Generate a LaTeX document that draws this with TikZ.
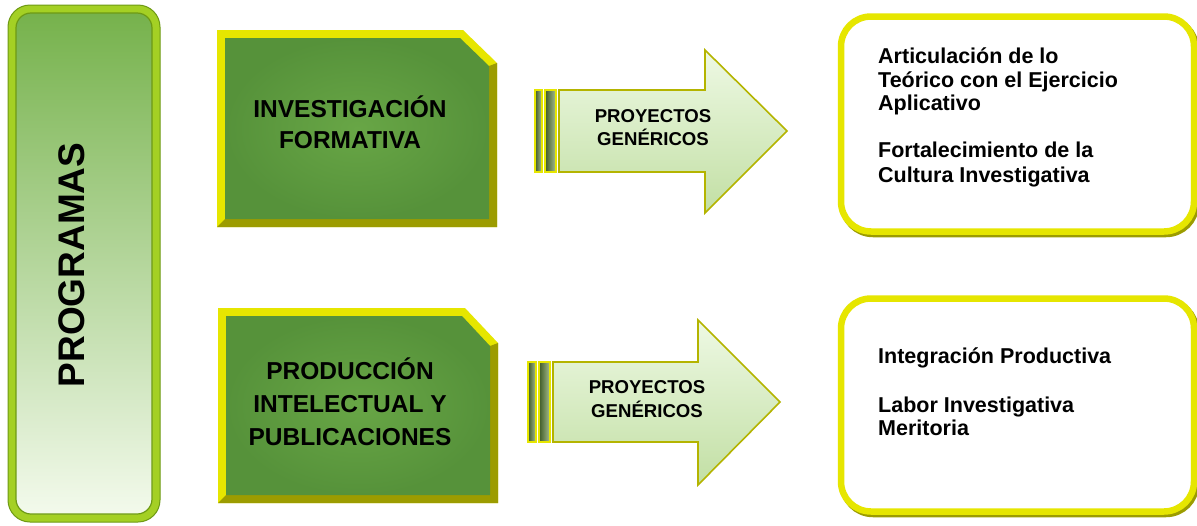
\documentclass[tikz,border=0pt]{standalone}
\usepackage{fontspec}
\setmainfont{Liberation Sans}
\definecolor{progborder}{HTML}{A4D024}
\definecolor{progdark}{HTML}{6E9A14}
\definecolor{progtop}{HTML}{76B24C}
\definecolor{progbot}{HTML}{F3FAEC}
\definecolor{ybright}{HTML}{E6E600}
\definecolor{yolive}{HTML}{9C9C00}
\definecolor{gmid}{HTML}{68A646}
\definecolor{gedge}{HTML}{56923A}
\definecolor{arrtop}{HTML}{EEF9E4}
\definecolor{arrbot}{HTML}{C2DFA4}
\definecolor{arrline}{HTML}{B4B400}
\definecolor{stripedark}{HTML}{3E5A26}
\definecolor{stripelight}{HTML}{A8BE90}
\tikzset{
  bigtxt/.style={font=\fontsize{37}{40}\selectfont\bfseries, inner sep=0pt},
  boxtxt/.style={font=\fontsize{24.5}{28}\selectfont\bfseries, inner sep=0pt, anchor=base},
  arrtxt/.style={font=\fontsize{18.6}{22}\selectfont\bfseries, inner sep=0pt, anchor=base},
  listtxt/.style={font=\fontsize{21.5}{24}\selectfont\bfseries, inner sep=0pt, anchor=base west},
  bevel/.style={fill=yolive},
  greenfill/.style={inner color=gmid, outer color=gedge},
  arrowbody/.style={top color=arrtop, bottom color=arrbot, draw=arrline, line width=1.6pt, line join=miter},
  stripebox/.style={left color=stripedark, right color=stripelight, draw=ybright, line width=1.4pt},
  outcomebox/.style={draw=ybright, line width=6.5pt, rounded corners=30pt, fill=white},
  outcomeshadow/.style={draw=yolive, line width=6.5pt, rounded corners=30pt},
}
\begin{document}
\begin{tikzpicture}[x=1pt,y=-1pt]
\useasboundingbox[fill=white] (0,0) rectangle (1197,525);

% ---------- PROGRAMAS ----------
\fill[progborder, draw=progdark, line width=1pt, rounded corners=22pt] (8,5) rectangle (160,522);
\shade[top color=progtop, bottom color=progbot, draw=progdark, line width=1.2pt, rounded corners=15pt] (16,13) rectangle (152,514);
\node[bigtxt, rotate=90] (prog) at (72,265) {PROGRAMAS};

% ---------- Box 1 ----------
\fill[ybright] (217,30) -- (463,30) -- (497,63) -- (497,227) -- (217,227) -- cycle;
\fill[bevel] (497,63) -- (497,227) -- (217,227) -- (225,219) -- (489,219) -- (489,66) -- cycle;
\shade[greenfill] (225,38) -- (460,38) -- (489,66) -- (489,219) -- (225,219) -- cycle;
\node[boxtxt] (inv1) at (350,117) {INVESTIGACIÓN};
\node[boxtxt] (inv2) at (350,148) {FORMATIVA};

% ---------- Box 2 ----------
\fill[ybright] (218,308) -- (465,308) -- (498,343) -- (498,503) -- (218,503) -- cycle;
\fill[bevel] (498,343) -- (498,503) -- (218,503) -- (226,495) -- (490,495) -- (490,346) -- cycle;
\shade[greenfill] (226,316) -- (462,316) -- (490,346) -- (490,495) -- (226,495) -- cycle;
\node[boxtxt] (pro1) at (350,379) {PRODUCCIÓN};
\node[boxtxt] (pro2) at (350,412) {INTELECTUAL Y};
\node[boxtxt] (pro3) at (350,445) {PUBLICACIONES};

% ---------- Arrow 1 ----------
\shade[stripebox] (535,90) rectangle (542,172);
\shade[stripebox] (545,90) rectangle (556,172);
\shade[arrowbody] (559,90) -- (705,90) -- (705,50) -- (787,131) -- (705,213) -- (705,172) -- (559,172) -- cycle;
\node[arrtxt] (a1l1) at (653,122) {PROYECTOS};
\node[arrtxt] (a1l2) at (653,145) {GENÉRICOS};

% ---------- Arrow 2 ----------
\shade[stripebox] (528,362) rectangle (536,442);
\shade[stripebox] (539,362) rectangle (550,442);
\shade[arrowbody] (553,362) -- (698,362) -- (698,320) -- (780,402) -- (698,485) -- (698,442) -- (553,442) -- cycle;
\node[arrtxt] (a2l1) at (647,393) {PROYECTOS};
\node[arrtxt] (a2l2) at (647,417) {GENÉRICOS};

% ---------- Outcome box 1 ----------
\draw[outcomeshadow] (843,19) rectangle (1196,234);
\draw[outcomebox] (841,16.5) rectangle (1194,231.5);
\node[listtxt] (o1a) at (878,63) {Articulación de lo};
\node[listtxt] (o1b) at (878,87) {Teórico con el Ejercicio};
\node[listtxt] (o1c) at (878,110) {Aplicativo};
\node[listtxt] (o1d) at (878,157) {Fortalecimiento de la};
\node[listtxt] (o1e) at (878,182) {Cultura Investigativa};

% ---------- Outcome box 2 ----------
\draw[outcomeshadow] (843,301) rectangle (1196,514);
\draw[outcomebox] (841,298.5) rectangle (1194,511.5);
\node[listtxt] (o2a) at (878,363) {Integración Productiva};
\node[listtxt] (o2b) at (878,412) {Labor Investigativa};
\node[listtxt] (o2c) at (878,435) {Meritoria};
\end{tikzpicture}
\end{document}
